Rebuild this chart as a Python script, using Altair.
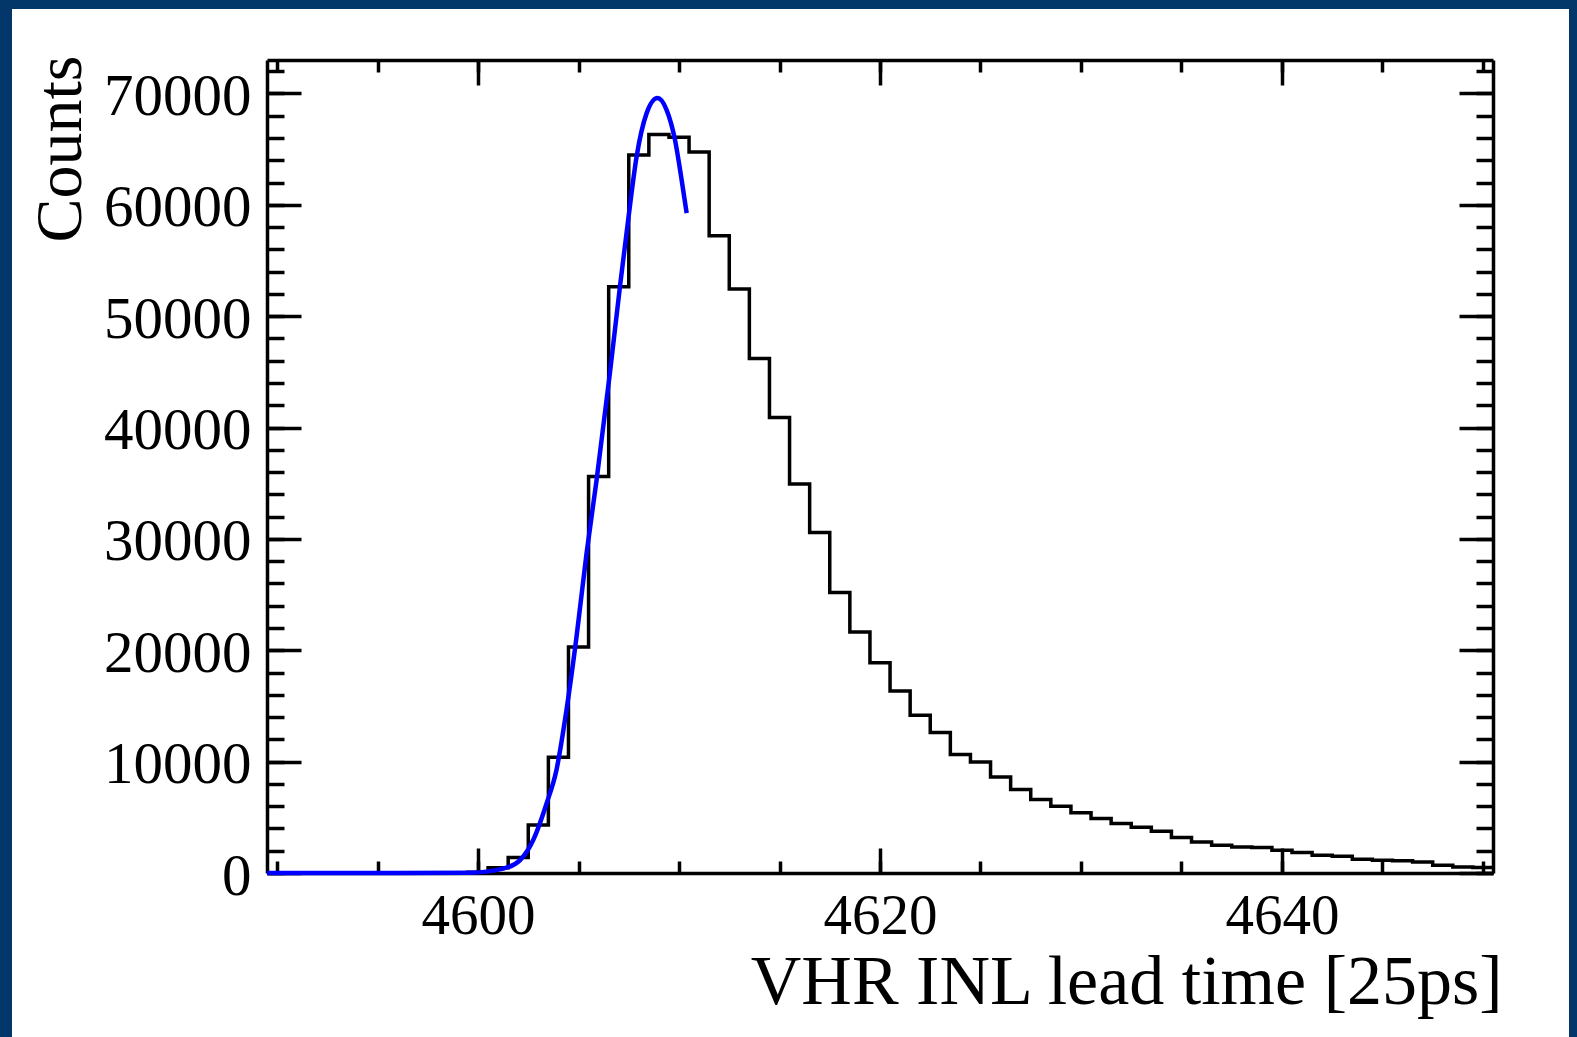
import altair as alt
import pandas as pd

NAVY = "#03376a"
FONT = "Liberation Serif"

# Histogram: one-unit bins centred on integer TDC values
bin_centers = list(range(4590, 4651))
counts = [
    0, 0, 0, 0, 0, 0, 0, 0, 0, 0,
    60, 480, 1400, 4300, 10400, 20300, 35600, 52650, 64480, 66300,
    66070, 64750, 57230, 52440, 46200, 40910, 34920, 30580, 25180, 21650,
    18870, 16340, 14170, 12610, 10640, 9970, 8630, 7490, 6590, 6000,
    5400, 4900, 4450, 4100, 3750, 3180, 2790, 2490, 2340, 2280,
    2040, 1830, 1590, 1500, 1230, 1140, 1110, 990, 690, 540,
    485,
]

# Gaussian fit curve, sampled along its drawn path
fit_x = [4589.5, 4596.0, 4599.6, 4601.25, 4602.08, 4602.74, 4603.41, 4603.90,
         4604.40, 4604.90, 4605.40, 4605.90, 4606.56, 4607.06, 4607.47, 4607.89,
         4608.39, 4608.93, 4609.38, 4609.80, 4610.13, 4610.38]
fit_y = [0, 0, 30, 395, 1140, 2940, 6240, 9230,
         14620, 21200, 28700, 35300, 44870, 52650, 58640, 64330,
         68230, 69580, 68530, 65830, 62240, 59250]

x_major = [4600, 4620, 4640]
x_minor = list(range(4590, 4651, 5))
y_major = [0, 10000, 20000, 30000, 40000, 50000, 60000, 70000]
y_minor = list(range(0, 73001, 2000))

X_TITLE = "VHR INL lead time [25ps]"
Y_TITLE = "Counts"

W, H = 1226, 813
PAD = {"left": 267, "top": 60, "right": 84, "bottom": 164}

# step outline: one point per lower bin edge plus the final upper edge
edges = [c - 0.5 for c in bin_centers] + [bin_centers[-1] + 0.5]
hist = pd.DataFrame({"t": edges, "n": counts + [counts[-1]]})
fit = pd.DataFrame({"t": fit_x, "n": fit_y})
one = pd.DataFrame({"k": [0]})

xscale = alt.Scale(domain=[4589.5, 4650.5], nice=False, zero=False)
yscale = alt.Scale(domain=[0, 73000], nice=False, zero=True)


def inward(n):
    return {"expr": str(-n)}


base_axis = dict(grid=False, tickColor="black", tickWidth=3.5, tickCap="butt",
                 domainColor="black", domainWidth=3.5)

x_bottom = alt.Axis(orient="bottom", values=x_major, tickSize=inward(25),
                    labelPadding=40, labelFont=FONT, labelFontSize=57,
                    labelColor="black", format="d", labelFlush=False,
                    labelOverlap=False, titleFont=FONT, titleFontSize=70,
                    titleFontWeight="normal", titleColor="black",
                    titleAlign="right", titleBaseline="alphabetic",
                    titleX=1235, titleY=130, **base_axis)
x_bottom_minor = alt.Axis(orient="bottom", values=x_minor, tickSize=inward(12),
                          labels=False, domain=False, **base_axis)
x_top = alt.Axis(orient="top", values=x_major, tickSize=inward(25),
                 labels=False, **base_axis)
x_top_minor = alt.Axis(orient="top", values=x_minor, tickSize=inward(12),
                       labels=False, domain=False, **base_axis)

y_left = alt.Axis(orient="left", values=y_major, tickSize=inward(34),
                  labelPadding=50, labelFont=FONT, labelFontSize=59,
                  labelColor="black", format="d", labelAlign="right",
                  labelBaseline="middle", labelOffset=3, labelFlush=False,
                  labelOverlap=False, titleFont=FONT, titleFontSize=66,
                  titleFontWeight="normal", titleColor="black", titleAngle=270,
                  titleAlign="right", titleBaseline="alphabetic",
                  titleX=-187, titleY=-5, **base_axis)
y_left_minor = alt.Axis(orient="left", values=y_minor, tickSize=inward(17),
                        labels=False, domain=False, **base_axis)
y_right = alt.Axis(orient="right", values=y_major, tickSize=inward(34),
                   labels=False, **base_axis)
y_right_minor = alt.Axis(orient="right", values=y_minor, tickSize=inward(17),
                         labels=False, domain=False, **base_axis)

histogram = alt.Chart(hist).mark_line(
    interpolate="step-after", color="black", strokeWidth=3.5
).encode(
    x=alt.X("t:Q", scale=xscale, axis=x_bottom, title=X_TITLE),
    y=alt.Y("n:Q", scale=yscale, axis=y_left, title=Y_TITLE),
)

fit_curve = alt.Chart(fit).mark_line(
    interpolate="monotone", color="#0000ff", strokeWidth=4.5
).encode(
    x=alt.X("t:Q", scale=xscale, axis=x_bottom_minor, title=None),
    y=alt.Y("n:Q", scale=yscale, axis=y_left_minor, title=None),
)

frame_major = alt.Chart(hist).mark_line(opacity=0).encode(
    x=alt.X("t:Q", scale=xscale, axis=x_top, title=None),
    y=alt.Y("n:Q", scale=yscale, axis=y_right, title=None),
)
frame_minor = alt.Chart(hist).mark_line(opacity=0).encode(
    x=alt.X("t:Q", scale=xscale, axis=x_top_minor, title=None),
    y=alt.Y("n:Q", scale=yscale, axis=y_right_minor, title=None),
)

# navy canvas border (top, left and right strips)
strip_top = alt.Chart(one).mark_rect(fill=NAVY).encode(
    x=alt.value(-PAD["left"]), x2=alt.value(W + PAD["right"]),
    y=alt.value(-PAD["top"]), y2=alt.value(-51),
)
strip_left = alt.Chart(one).mark_rect(fill=NAVY).encode(
    x=alt.value(-PAD["left"]), x2=alt.value(-255),
    y=alt.value(-PAD["top"]), y2=alt.value(H + PAD["bottom"]),
)
strip_right = alt.Chart(one).mark_rect(fill=NAVY).encode(
    x=alt.value(1302), x2=alt.value(W + PAD["right"]),
    y=alt.value(-PAD["top"]), y2=alt.value(H + PAD["bottom"]),
)

chart = alt.layer(
    frame_major, frame_minor, histogram, fit_curve,
    strip_top, strip_left, strip_right,
).resolve_axis(
    x="independent", y="independent"
).properties(
    width=W, height=H, padding=PAD,
    autosize=alt.AutoSizeParams(type="none"),
    background="white",
).configure_view(stroke=None)

chart.save("out.html", embed_options={"renderer": "svg", "actions": False})
